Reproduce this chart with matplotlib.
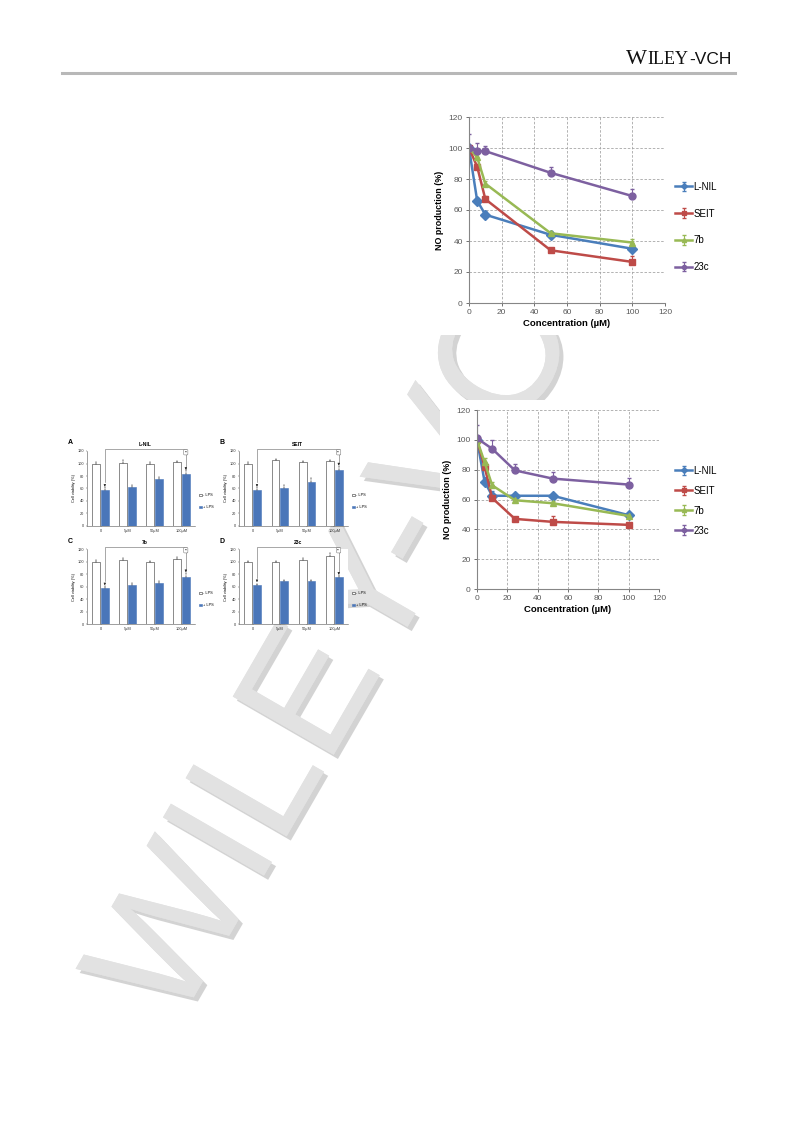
import numpy as np
import matplotlib.pyplot as plt
from matplotlib import patheffects
from matplotlib.patches import Rectangle
from matplotlib.lines import Line2D

plt.rcParams['font.family'] = ['Liberation Sans', 'DejaVu Sans']

W, H = 793, 1123

# NO production, first assay
conc_top = [0, 5, 10, 50, 100]
lnil_top = [100, 66, 57, 44, 35]
seit_top = [100, 88, 67, 34, 26.5]
b7_top = [100, 94, 77, 45, 39]
c23_top = [100, 98, 98, 84, 69]
err_lnil_top = [1.5, 2, 2.5, 1.5, 2]
err_seit_top = [1.5, 2, 2, 1.5, 4]
err_b7_top = [1.5, 2, 2, 1.5, 2]
err_c23_top = [9, 5.5, 3.5, 4, 4.5]

# NO production, second assay
conc_bot = [0, 5, 10, 25, 50, 100]
lnil_bot = [100, 72, 62.5, 62.5, 62.5, 49.5]
seit_bot = [100, 82, 61, 47, 45, 43]
b7_bot = [100, 85, 69.5, 59.5, 57.5, 49]
err_lnil_bot = [1.5, 2, 3, 1.5, 1.5, 1.5]
err_seit_bot = [1.5, 2, 2, 1.5, 4, 1.5]
err_b7_bot = [1.5, 3, 2, 1.5, 1.5, 1.5]
conc_bot_c23 = [0, 10, 25, 50, 100]
c23_bot = [101, 94, 79.5, 74, 70]
err_c23_bot = [9, 6, 4.5, 4.5, 4.5]

series_names = ['L-NIL', 'SEIT', '7b', '23c']
series_colors = ['#4a7ebb', '#be4b48', '#98b954', '#7d60a0']
series_markers = ['D', 's', '^', 'o']

# cell viability panels
bar_groups = ['0', '5µM', '50µM', '100µM']
panel_letters = ['A', 'B', 'C', 'D']
panel_titles = ['L-NIL', 'SEIT', '7b', '23c']
viab_minus = [[100, 101, 100, 102], [100, 105, 102, 104], [100, 103, 100, 104], [100, 100, 103, 109]]
viab_plus = [[58, 62, 75, 84], [58, 60, 71, 90], [57, 63, 66, 76], [62, 69, 69, 76]]
err_minus = [[3, 4, 3, 2], [3, 2, 2, 2], [3, 2, 1, 3], [1, 1, 2, 4]]
err_plus = [[4, 4, 3, 5], [5, 6, 6, 6], [4, 3, 3, 6], [2, 1, 2, 2]]


def px_rect(x0, y0, x1, y1):
    return [x0 / W, 1 - y1 / H, (x1 - x0) / W, (y1 - y0) / H]


fig = plt.figure(figsize=(W / 100, H / 100), dpi=100)

# header
fig.text(626 / W, 1 - 64 / H, 'W', fontsize=16, family='Liberation Serif', color='#111111')
fig.text(647 / W, 1 - 64 / H, 'ILEY', fontsize=13, family='Liberation Serif', color='#111111')
fig.text(689 / W, 1 - 64 / H, '-VCH', fontsize=12.5, family='Liberation Sans', color='#111111')
fig.add_artist(Line2D([62 / W, 735 / W], [1 - 73 / H, 1 - 73 / H], color='#b8b8b8', lw=2.2))

# watermark
wm = fig.text(370 / W, 1 - 605 / H, 'WILEY-VCH', fontsize=122, rotation=60,
              ha='center', va='center', rotation_mode='anchor', color='#e2e2e2', zorder=-3)
wm.set_path_effects([patheffects.withSimplePatchShadow(offset=(3, -3), shadow_rgbFace='#a8a8a8', alpha=0.5),
                     patheffects.Normal()])

# white backgrounds of the pasted figures
for r in [(430, 100, 745, 335), (440, 400, 745, 612)]:
    fig.add_artist(Rectangle((r[0] / W, 1 - r[3] / H), (r[2] - r[0]) / W, (r[3] - r[1]) / H,
                             transform=fig.transFigure, facecolor='white', edgecolor='none', zorder=-1))


def line_chart(rect, xs_list, ys_list, errs_list, legend_xy, spacing):
    ax = fig.add_axes(px_rect(*rect))
    for xs, ys, es, name, c, m in zip(xs_list, ys_list, errs_list, series_names, series_colors, series_markers):
        ax.errorbar(xs, ys, yerr=[np.zeros(len(es)), es], color=c, lw=1.8, marker=m, ms=5,
                    mec=c, capsize=1.5, elinewidth=0.8, label=name)
    ax.set_xlim(0, 120)
    ax.set_ylim(0, 120)
    ax.set_xticks(range(0, 121, 20))
    ax.set_yticks(range(0, 121, 20))
    ax.grid(True, color='#a6a6a6', ls=(0, (3, 2)), lw=0.6)
    ax.set_axisbelow(True)
    for s in ['top', 'right']:
        ax.spines[s].set_visible(False)
    for s in ['left', 'bottom']:
        ax.spines[s].set_color('#868686')
        ax.spines[s].set_linewidth(0.8)
    ax.tick_params(labelsize=6, colors='#595959', length=2.5, width=0.6, pad=2)
    ax.set_ylabel('NO production (%)', fontsize=6.4, fontweight='bold', labelpad=3)
    ax.set_xlabel('Concentration (µM)', fontsize=6.8, fontweight='bold', labelpad=2)
    ax.legend(loc='upper left', bbox_to_anchor=legend_xy, bbox_transform=fig.transFigure,
              frameon=False, fontsize=7, handlelength=1.8, handletextpad=0.1,
              labelspacing=spacing, borderpad=0, markerscale=0.6)
    return ax


line_chart((469, 117, 665, 303), [conc_top] * 4, [lnil_top, seit_top, b7_top, c23_top],
           [err_lnil_top, err_seit_top, err_b7_top, err_c23_top], (670 / W, 1 - 177 / H), 1.72)
line_chart((477, 410, 659, 589), [conc_bot, conc_bot, conc_bot, conc_bot_c23],
           [lnil_bot, seit_bot, b7_bot, c23_bot],
           [err_lnil_bot, err_seit_bot, err_b7_bot, err_c23_bot], (670 / W, 1 - 461 / H), 1.02)

# cell viability bar panels
bar_rects = [(87, 451, 195, 526), (239, 451, 348, 526), (87, 549, 195, 624), (239, 549, 348, 624)]
x = np.arange(len(bar_groups))
for i, rect in enumerate(bar_rects):
    ax = fig.add_axes(px_rect(*rect))
    ax.bar(x - 0.16, viab_minus[i], 0.29, color='white', edgecolor='#333333', lw=0.4, label='- LPS')
    ax.bar(x + 0.16, viab_plus[i], 0.29, color='#4a76b9', edgecolor='#4a76b9', lw=0.4, label='+ LPS')
    ax.errorbar(x - 0.16, viab_minus[i], yerr=[np.zeros(4), err_minus[i]], fmt='none',
                ecolor='#333333', elinewidth=0.3, capsize=0.8, capthick=0.3)
    ax.errorbar(x + 0.16, viab_plus[i], yerr=[np.zeros(4), err_plus[i]], fmt='none',
                ecolor='#333333', elinewidth=0.3, capsize=0.8, capthick=0.3)
    ax.set_xlim(-0.5, 3.5)
    ax.set_ylim(0, 120)
    ax.set_yticks(range(0, 121, 20))
    ax.set_xticks(x)
    ax.set_xticklabels(bar_groups)
    for s in ['top', 'right']:
        ax.spines[s].set_visible(False)
    for s in ['left', 'bottom']:
        ax.spines[s].set_linewidth(0.4)
        ax.spines[s].set_color('#555555')
    ax.tick_params(labelsize=2.8, length=1, width=0.3, pad=1, colors='#333333')
    ax.set_ylabel('Cell viability (%)', fontsize=2.8, labelpad=1.5)
    # comparison bracket
    top = 124
    ax.plot([0.16, 0.16, 3.16, 3.16], [viab_plus[i][0] + 12, top, top, viab_plus[i][3] + err_plus[i][3] + 3],
            color='#666666', lw=0.4, clip_on=False)
    ax.annotate('', xy=(0.16, viab_plus[i][0] + 5), xytext=(0.16, viab_plus[i][0] + 12),
                arrowprops=dict(arrowstyle='-|>', lw=0.4, color='#222222', mutation_scale=3))
    ax.annotate('', xy=(3.16, viab_plus[i][3] + err_plus[i][3] + 1),
                xytext=(3.16, viab_plus[i][3] + err_plus[i][3] + 4),
                arrowprops=dict(arrowstyle='-|>', lw=0.4, color='#222222', mutation_scale=3))
    ax.text(3.16, top - 6, '**', fontsize=2.5, ha='center', va='center',
            bbox=dict(boxstyle='round,pad=0.2', fc='white', ec='#555555', lw=0.3))
    ax.text(1.65, top + 2, panel_titles[i], fontsize=3.6, fontweight='bold', ha='center', va='bottom')
    ax.text(-0.18, 1.06, panel_letters[i], transform=ax.transAxes, fontsize=5, fontweight='bold',
            ha='left', va='bottom')
    ax.legend(loc='center left', bbox_to_anchor=(1.0, 0.33), frameon=False, fontsize=2.8,
              handlelength=0.8, handleheight=0.6, handletextpad=0.4, labelspacing=2.0)

fig.savefig('out.png', dpi=100)
